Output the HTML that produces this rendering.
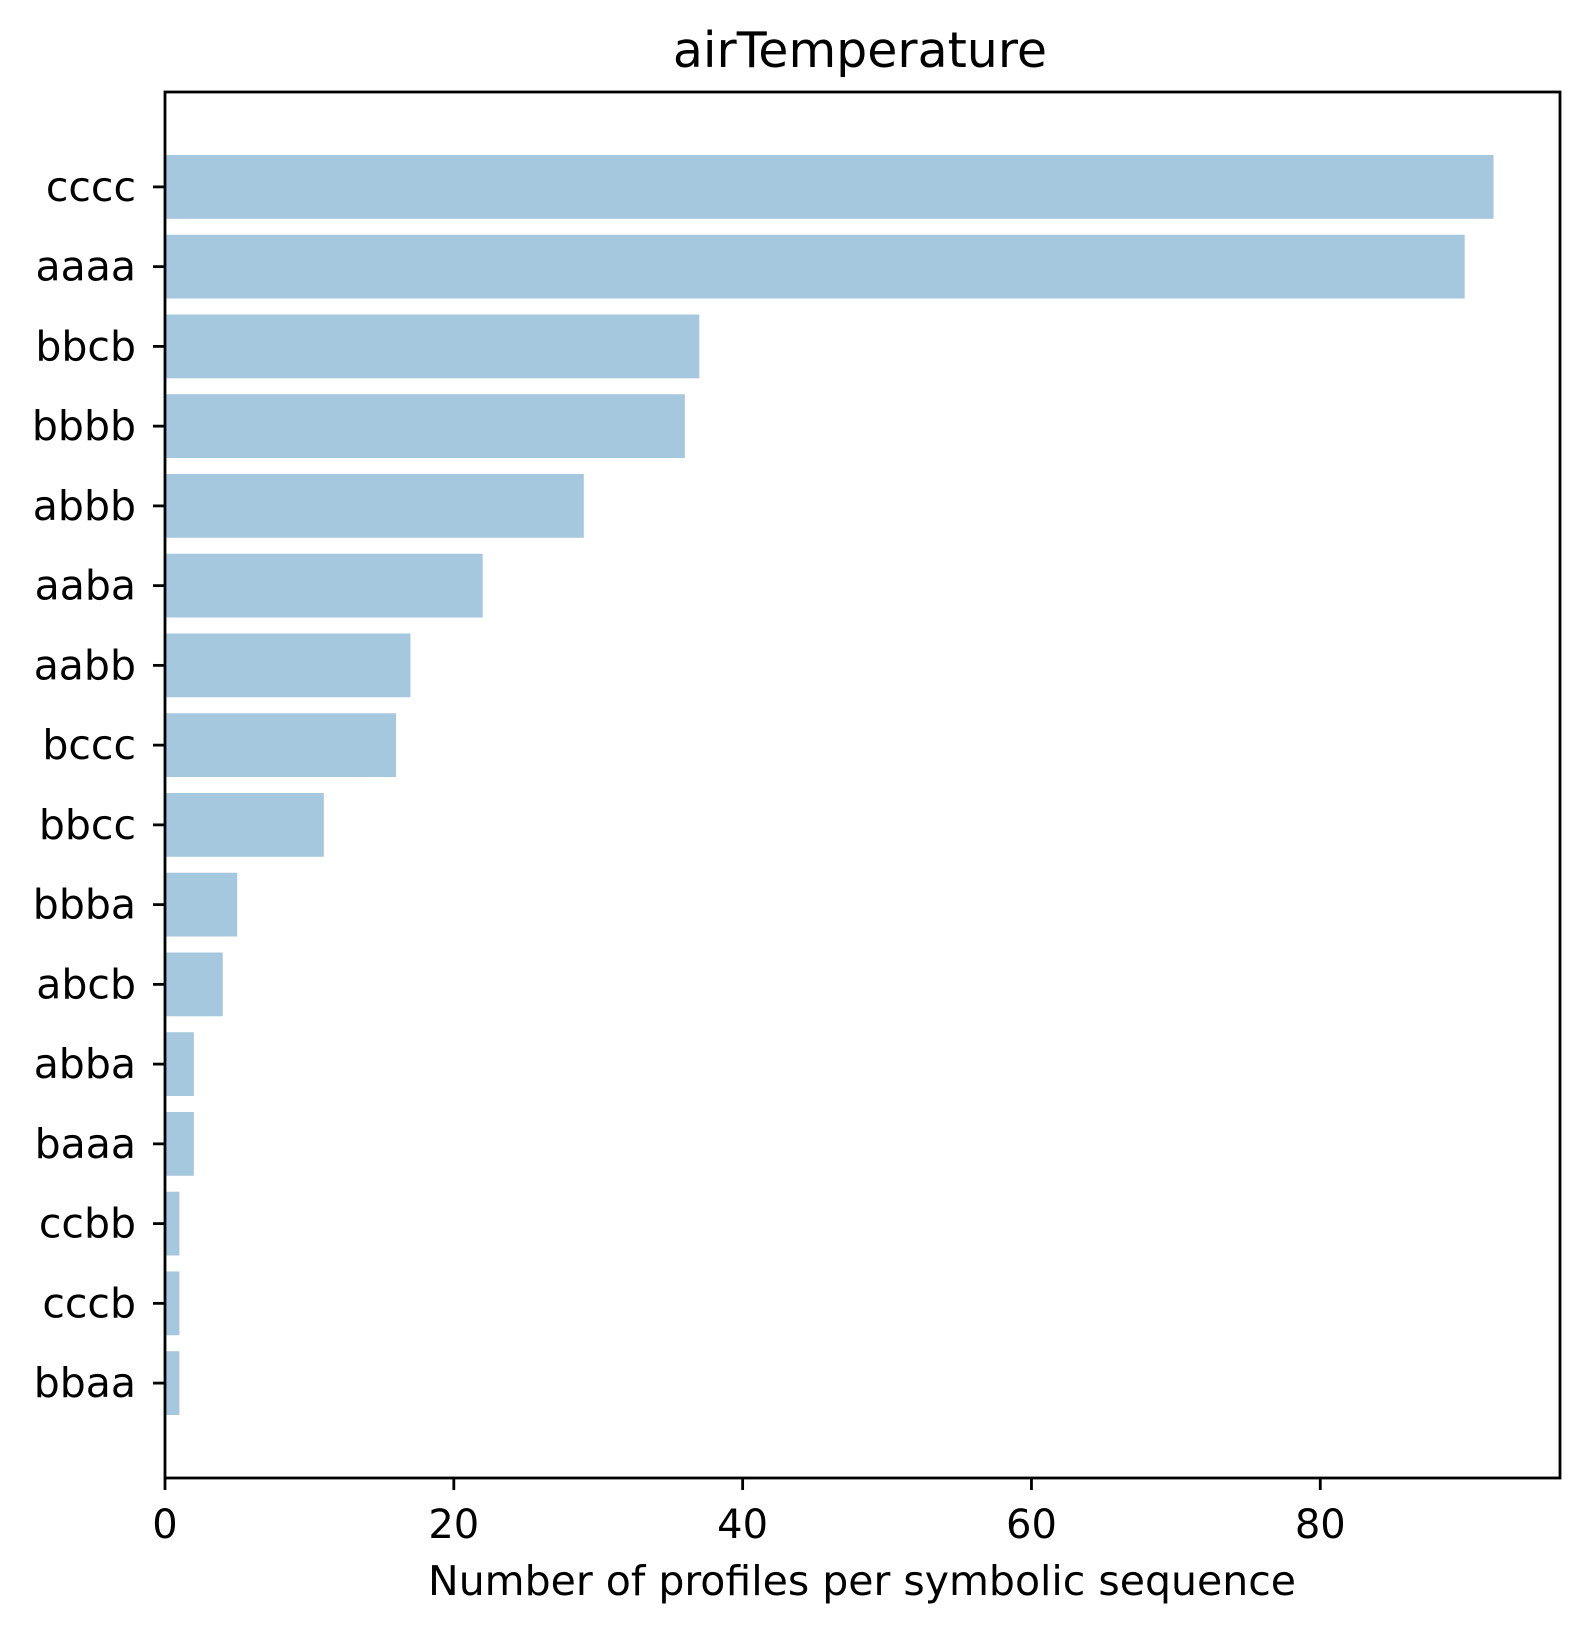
<!DOCTYPE html>
<html><head><meta charset="utf-8"><style>
body{margin:0;background:#fff}
svg text{font-family:"DejaVu Sans","Liberation Sans",sans-serif;fill:#000}
</style></head><body>
<svg id="chart" width="1590" height="1634" viewBox="0 0 1590 1634" xmlns="http://www.w3.org/2000/svg">
<rect width="1590" height="1634" fill="#fff"/>
<text x="860" y="67" font-size="49" text-anchor="middle">airTemperature</text>
<g id="bars"></g>
<g id="yaxis"></g>
<g id="xaxis"></g>
<rect x="165" y="92" width="1395" height="1386" fill="none" stroke="#000" stroke-width="2.8"/>
<text x="862" y="1595" font-size="41" text-anchor="middle">Number of profiles per symbolic sequence</text>
</svg>
<script>
const categories = ["cccc","aaaa","bbcb","bbbb","abbb","aaba","aabb","bccc","bbcc","bbba","abcb","abba","baaa","ccbb","cccb","bbaa"];
const counts = [92,90,37,36,29,22,17,16,11,5,4,2,2,1,1,1];
const xTicks = [0,20,40,60,80];
const L=165,R=1560,T=92,B=1478;
const xmax = Math.max(...counts)*1.05;
const x = v => L + v/xmax*(R-L);
const y0=-1.19, y1=categories.length-1+1.19;
const y = i => T + (i-y0)/(y1-y0)*(B-T);
const bw = 0.8*(y(1)-y(0));
const NS="http://www.w3.org/2000/svg";
const bars=document.getElementById('bars'), ya=document.getElementById('yaxis'), xa=document.getElementById('xaxis');
function mk(tag,attrs,parent){const e=document.createElementNS(NS,tag);for(const k in attrs)e.setAttribute(k,attrs[k]);parent.appendChild(e);return e;}
categories.forEach((c,i)=>{
  const r=mk('rect',{x:L,y:y(i)-bw/2,width:x(counts[i])-L,height:bw,fill:'#a6c8df'},bars);
  
  
  const t=mk('line',{x1:L-12,x2:L,y1:y(i),y2:y(i),stroke:'#000','stroke-width':2.8},ya);
  
  
  const tx=mk('text',{x:L-29,y:y(i)+14,'font-size':41,'text-anchor':'end'},ya);
  tx.textContent=c;
  
  
});
xTicks.forEach(v=>{
  const t=mk('line',{x1:x(v),x2:x(v),y1:B,y2:B+12,stroke:'#000','stroke-width':2.8},xa);
  
  
  const tx=mk('text',{x:x(v),y:1538,'font-size':40,'text-anchor':'middle'},xa);
  tx.textContent=v;
  
  
});
</script>
</body></html>
